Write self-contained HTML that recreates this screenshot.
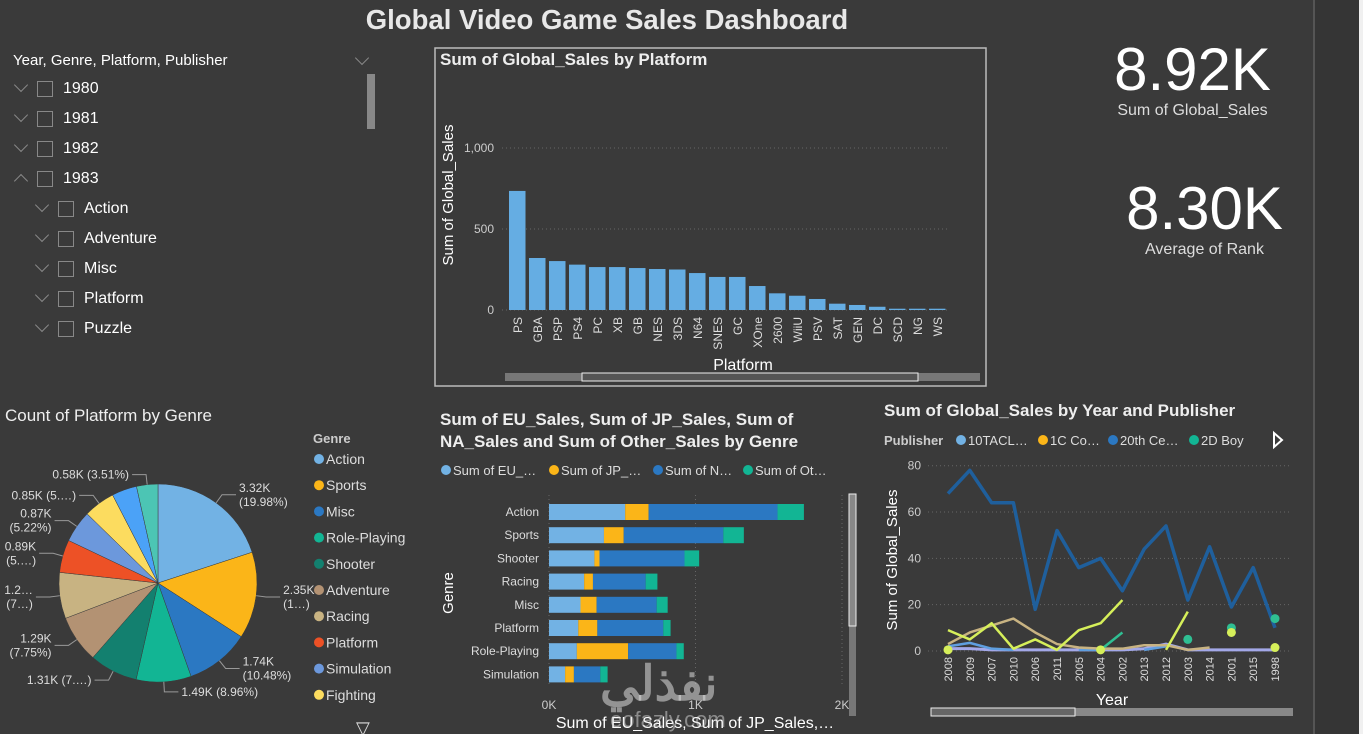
<!DOCTYPE html>
<html><head><meta charset="utf-8">
<style>
body{margin:0;width:1363px;height:734px;background:#3a3a3a;overflow:hidden;font-family:"Liberation Sans",sans-serif;color:#fff;position:relative}
.abs{position:absolute}
svg text{font-family:"Liberation Sans",sans-serif}
.sl{position:absolute;font-size:16px;color:#fff}
.cb{position:absolute;width:16px;height:16px;border:1px solid #888;box-sizing:border-box}
.chev{position:absolute;width:9px;height:9px;border-right:1px solid #888;border-bottom:1px solid #888;transform:rotate(45deg)}
.chev.up{transform:rotate(-135deg)}
</style></head><body>
<div class="abs" style="left:1313px;top:0;width:46px;height:734px;background:#353535;border-left:2px solid #555"></div>
<div class="abs" style="left:1359px;top:0;width:4px;height:734px;background:#f0f0f0"></div>
<div class="abs" style="left:257px;top:4px;width:700px;text-align:center;font-size:27.5px;font-weight:bold;color:#e8e8e8">Global Video Game Sales Dashboard</div>

<div>
<div class="sl" style="left:13px;top:52px;font-size:15px">Year, Genre, Platform, Publisher</div>
<div class="chev" style="left:357px;top:53px"></div>
<div class="abs" style="left:367px;top:74px;width:8px;height:55px;background:#888"></div>
<div id="slicerItems"></div>
</div>

<div class="abs" style="left:1080px;top:38px;width:225px;text-align:center">
<div style="font-size:60px;line-height:64px">8.92K</div><div style="font-size:16px;color:#ddd">Sum of Global_Sales</div></div>
<div class="abs" style="left:1092px;top:177px;width:225px;text-align:center">
<div style="font-size:60px;line-height:64px">8.30K</div><div style="font-size:16px;color:#ddd">Average of Rank</div></div>

<svg class="abs" style="left:0;top:0" width="1363" height="734" id="svg">
<rect x="435" y="48" width="551" height="338" fill="none" stroke="#bbb" stroke-width="1.5"/>
<text x="440" y="65" font-size="17" font-weight="bold" fill="#eee">Sum of Global_Sales by Platform</text>
<text x="743" y="370" font-size="16" fill="#fff" text-anchor="middle">Platform</text>
<text transform="translate(453,195) rotate(-90)" font-size="15" fill="#fff" text-anchor="middle">Sum of Global_Sales</text>
<rect x="505" y="373" width="475" height="8" fill="#777"/>
<rect x="582" y="373" width="336" height="8" fill="#555" stroke="#eee"/>
<g id="barG"></g>

<text x="5" y="421" font-size="17" fill="#eee">Count of Platform by Genre</text>
<text x="313" y="443" font-size="13" font-weight="bold" fill="#ccc">Genre</text>
<g id="pieG"></g>
<text x="356" y="734" font-size="18" fill="#ddd">▽</text>

<text x="440" y="425" font-size="17" font-weight="bold" fill="#eee">Sum of EU_Sales, Sum of JP_Sales, Sum of</text>
<text x="440" y="447" font-size="17" font-weight="bold" fill="#eee">NA_Sales and Sum of Other_Sales by Genre</text>
<g id="stackG"></g>
<text transform="translate(453,593) rotate(-90)" font-size="15" fill="#fff" text-anchor="middle">Genre</text>
<text x="695" y="728" font-size="16" fill="#fff" text-anchor="middle">Sum of EU_Sales, Sum of JP_Sales,…</text>
<rect x="849" y="494" width="7" height="222" fill="#777"/>
<rect x="849" y="494" width="7" height="132" fill="#888" stroke="#eee"/>

<text x="884" y="416" font-size="17" font-weight="bold" fill="#eee">Sum of Global_Sales by Year and Publisher</text>
<text x="884" y="445" font-size="13" font-weight="bold" fill="#ccc">Publisher</text>
<path d="M1274 433 L1282 440 L1274 447 Z" fill="none" stroke="#fff" stroke-width="2"/>
<text transform="translate(897,560) rotate(-90)" font-size="15" fill="#fff" text-anchor="middle">Sum of Global_Sales</text>
<text x="1112" y="705" font-size="16" fill="#fff" text-anchor="middle">Year</text>
<rect x="931" y="708" width="362" height="8" fill="#888"/>
<rect x="931" y="708" width="144" height="8" fill="#666" stroke="#eee"/>
<g id="lineG"></g>
<text x="600" y="700" font-size="48" font-weight="bold" fill="rgba(220,220,220,0.55)">نفذلي</text>
<text x="610" y="727" font-size="22" fill="rgba(220,220,220,0.5)">eofazly.com</text>
</svg>

<script>
const NS='http://www.w3.org/2000/svg';
function mk(tag,attrs,parent){const e=document.createElementNS(NS,tag);for(const k in attrs)e.setAttribute(k,attrs[k]);parent.appendChild(e);return e;}

// slicer
const slicerYears=['1980','1981','1982','1983'];
const slicerGenres=['Action','Adventure','Misc','Platform','Puzzle'];
const si=document.getElementById('slicerItems');
function addItem(label,x,y,up){
 const d=document.createElement('div');
 
 
 d.innerHTML='<div class="chev'+(up?' up':'')+'" style="left:'+(x-21)+'px;top:'+(y+(up?6:0))+'px"></div><div class="cb" style="left:'+x+'px;top:'+(y+1)+'px"></div><div class="sl" style="left:'+(x+26)+'px;top:'+y+'px">'+label+'</div>';
 si.appendChild(d);
}
slicerYears.forEach((y,i)=>addItem(y,37,80+i*30,i==3));
slicerGenres.forEach((g,i)=>addItem(g,58,200+i*30,false));

// platform bar chart
const platforms=['PS','GBA','PSP','PS4','PC','XB','GB','NES','3DS','N64','SNES','GC','XOne','2600','WiiU','PSV','SAT','GEN','DC','SCD','NG','WS'];
const platformSales=[735,321,302,280,265,265,259,253,250,228,204,204,148,103,88,68,39,31,20,8,8,8];
const platformTicks=[0,500,1000];
const bg=document.getElementById('barG');
const by=v=>310-v*0.162, bx=i=>509+i*20;
platformTicks.forEach(t=>{
 const l=mk('line',{x1:502,x2:950,y1:by(t),y2:by(t),stroke:'#666','stroke-dasharray':'1,3'},bg);
 
 
 const tx=mk('text',{x:494,y:by(t)+4,'font-size':12,fill:'#ccc','text-anchor':'end'},bg);tx.textContent=t.toLocaleString('en-US');
 
 
});
platforms.forEach((p,i)=>{
 const r=mk('rect',{x:bx(i),y:by(platformSales[i]),width:16.5,height:310-by(platformSales[i]),fill:'#65ade3'},bg);
 
 
 const t=mk('text',{transform:'translate('+(bx(i)+13)+',317) rotate(-90)','font-size':12,fill:'#ddd','text-anchor':'end'},bg);t.textContent=p;
 
 
});

// pie
const genres=['Action','Sports','Misc','Role-Playing','Shooter','Adventure','Racing','Platform','Simulation','Fighting','Strategy','Puzzle'];
const genreCounts=[3.32,2.35,1.74,1.49,1.31,1.29,1.25,0.89,0.87,0.85,0.68,0.58];
const pieLabels=['3.32K|(19.98%)','2.35K|(1…)','1.74K|(10.48%)','1.49K (8.96%)','1.31K (7.…)','1.29K|(7.75%)','1.2…|(7…)','0.89K|(5.…)','0.87K|(5.22%)','0.85K (5.…)','','0.58K (3.51%)'];
const pieColors=['#72b2e4','#fbb518','#2b78c2','#12b594','#13806f','#b39273','#c8b382','#ed5126','#6c98dc','#fcdc5f','#4ba2f7','#4cc5b4'];
const pg=document.getElementById('pieG');
const cx=158,cy=583,R=99;
const total=genreCounts.reduce((a,b)=>a+b,0);
let ang=-Math.PI/2;
genreCounts.forEach((v,i)=>{
 const a2=ang+v/total*2*Math.PI;
 const large=(a2-ang)>Math.PI?1:0;
 const p=mk('path',{d:`M${cx},${cy} L${cx+R*Math.cos(ang)},${cy+R*Math.sin(ang)} A${R},${R} 0 ${large} 1 ${cx+R*Math.cos(a2)},${cy+R*Math.sin(a2)} Z`,fill:pieColors[i],stroke:'#3a3a3a','stroke-width':0.5},pg);
 
 
 const m=(ang+a2)/2;
 if(pieLabels[i]){
  const x1=cx+R*Math.cos(m),y1=cy+R*Math.sin(m),x2=cx+(R+10)*Math.cos(m),y2=cy+(R+10)*Math.sin(m);
  const right=Math.cos(m)>=0, x3=x2+(right?14:-14);
  mk('polyline',{points:`${x1},${y1} ${x2},${y2} ${x3},${y2}`,fill:'none',stroke:'#999'},pg);
  const parts=pieLabels[i].split('|');
  parts.forEach((s,k)=>{
   const t=mk('text',{x:x3+(right?3:-3),y:y2+4+(k-(parts.length-1)/2)*14,'font-size':12,fill:'#ddd','text-anchor':right?'start':'end'},pg);t.textContent=s;
   
   
  });
 }
 ang=a2;
});
genres.slice(0,10).forEach((g,i)=>{
 const y=459+i*26.2;
 const c=mk('circle',{cx:319,cy:y,r:5,fill:pieColors[i]},pg);
 
 
 const t=mk('text',{x:326,y:y+5,'font-size':14,fill:'#ddd'},pg);t.textContent=g;
 
 
});

// stacked bar
const stackGenres=['Action','Sports','Shooter','Racing','Misc','Platform','Role-Playing','Simulation'];
const euSales=[0.52,0.375,0.31,0.24,0.215,0.2,0.19,0.11];
const jpSales=[0.16,0.135,0.035,0.06,0.11,0.13,0.35,0.06];
const naSales=[0.88,0.68,0.58,0.36,0.41,0.45,0.33,0.18];
const otherSales=[0.18,0.14,0.1,0.08,0.075,0.05,0.05,0.05];
const stackSeries=[euSales,jpSales,naSales,otherSales];
const stackNames=['Sum of EU_…','Sum of JP_…','Sum of N…','Sum of Ot…'];
const stackColors=['#72b2e4','#fbb518','#2b78c2','#12b594'];
const xTicks=[0,1,2];const xTickLabels=['0K','1K','2K'];
const sg=document.getElementById('stackG');
const sx=v=>549+v*146.5, sy=i=>512+i*23.2;
xTicks.forEach((t,k)=>{
 const l=mk('line',{x1:sx(t),x2:sx(t),y1:495,y2:685,stroke:'#666','stroke-dasharray':'1,3'},sg);
 
 
 const tx=mk('text',{x:sx(t),y:709,'font-size':12,fill:'#ccc','text-anchor':'middle'},sg);tx.textContent=xTickLabels[k];
 
 
});
stackNames.forEach((n,k)=>{
 const xs=[440,548,652,742][k];
 const c=mk('circle',{cx:xs+6,cy:470,r:5,fill:stackColors[k]},sg);
 
 
 const t=mk('text',{x:xs+13,y:475,'font-size':13,fill:'#ddd'},sg);t.textContent=n;
 
 
});
stackGenres.forEach((g,i)=>{
 let acc=0;
 stackSeries.forEach((s,k)=>{
  const r=mk('rect',{x:sx(acc),y:sy(i)-8,width:s[i]*146.5,height:16,fill:stackColors[k]},sg);
  
  
  acc+=s[i];
 });
 const t=mk('text',{x:539,y:sy(i)+4,'font-size':12,fill:'#ddd','text-anchor':'end'},sg);t.textContent=g;
 
 
});

// line chart
const years=['2008','2009','2007','2010','2006','2011','2005','2004','2002','2013','2012','2003','2014','2001','2015','1998'];
const yTicks=[0,20,40,60,80];
const pubNames=['10TACL…','1C Co…','20th Ce…','2D Boy'];
const pubColors=['#72b2e4','#fbb518','#2b78c2','#12b594'];
const seriesBlue=[68,78,64,64,18,52,36,40,26,44,54,22,45,19,36,10];
const seriesLime=[9,5,12,1,5,0.5,9,12,22,null,0.5,17,null,null,null,null];
const seriesTan=[3,8,11,14,8,3,1.5,1,1,2.5,2.5,0.5,1.5,null,null,null];
const seriesTeal=[null,null,null,null,null,null,null,0.5,8,null,null,null,null,null,null,null];
const seriesLav=[1,1,0.5,0.5,0.5,0.5,0.5,0.5,0.5,1,3,0.5,0.5,0.5,0.5,0.5];
const seriesLblue=[2,3.5,1,0.5,null,null,0.5,0.5,null,0.5,2,null,null,null,null,8];
const dotTeal=[null,null,null,null,null,null,null,null,null,null,null,5,null,10,null,14];
const dotLime=[0.5,null,null,null,null,null,null,0.5,null,null,null,null,null,8,null,1.5];
const lg=document.getElementById('lineG');
const lx=i=>948+i*21.8, ly=v=>651-v*2.316;
yTicks.forEach(t=>{
 const l=mk('line',{x1:928,x2:1292,y1:ly(t),y2:ly(t),stroke:'#666','stroke-dasharray':'1,3'},lg);
 
 
 const tx=mk('text',{x:921,y:ly(t)+4,'font-size':12,fill:'#ccc','text-anchor':'end'},lg);tx.textContent=t;
 
 
});
years.forEach((y,i)=>{
 const t=mk('text',{transform:'translate('+(lx(i)+4)+',657) rotate(-90)','font-size':11,fill:'#ddd','text-anchor':'end'},lg);t.textContent=y;
 
 
});
function drawLine(arr,color,w,name){
 let d='',pen=false;
 arr.forEach((v,i)=>{if(v==null){pen=false;return;}d+=(pen?'L':'M')+lx(i)+','+ly(v)+' ';pen=true;});
 const p=mk('path',{d:d,fill:'none',stroke:color,'stroke-width':w,'stroke-linejoin':'round'},lg);
 
 
}
function drawDots(arr,color,name){
 arr.forEach((v,i)=>{if(v==null)return;
  const c=mk('circle',{cx:lx(i),cy:ly(v),r:4.5,fill:color},lg);
  
  
 });
}
drawLine(seriesLav,'#a3a8e8',3,'line-lavender');
drawLine(seriesLblue,'#5f9fe0',2.5,'line-lightblue');
drawLine(seriesTan,'#c8b382',2.5,'line-tan');
drawLine(seriesTeal,'#2fbf93',2.5,'line-teal');
drawLine(seriesLime,'#d6ef5a',2.5,'line-lime');
drawLine(seriesBlue,'#1f5f9c',3.5,'line-20th-century');
drawDots(dotTeal,'#2fbf93','dot-teal');
drawDots(dotLime,'#d6ef5a','dot-lime');
pubNames.forEach((n,k)=>{
 const xs=[955,1037,1107,1188][k];
 const c=mk('circle',{cx:xs+6,cy:440,r:5,fill:pubColors[k]},lg);
 
 
 const t=mk('text',{x:xs+13,y:445,'font-size':13,fill:'#ddd'},lg);t.textContent=n;
 
 
});
</script>
</body></html>
